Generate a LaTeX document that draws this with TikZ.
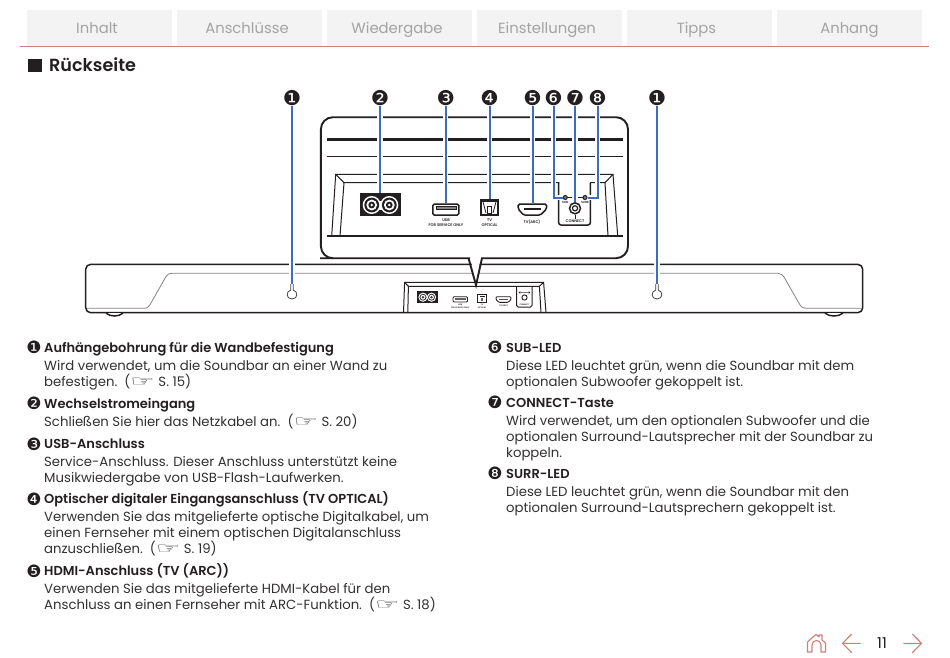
\documentclass[tikz,border=0pt]{standalone}
\usepackage{fontspec}
\setmainfont{Poppins}
\newfontfamily\medfont{Poppins SemiBold}
\newfontfamily\symfont{DejaVu Sans}
\definecolor{tabfill}{HTML}{F3F3F3}
\definecolor{tabtext}{HTML}{A3A3A3}
\definecolor{rule}{HTML}{CF8078}
\definecolor{ink}{HTML}{231F20}
\definecolor{lead}{HTML}{3F6DB8}
\definecolor{bodyink}{HTML}{333031}
\tikzset{
  tabbox/.style={fill=tabfill,minimum width=145pt,minimum height=36pt,inner sep=0pt},
  tablabel/.style={inner sep=0pt,text=tabtext,text height=10pt,text depth=3pt,font=\fontsize{14.8}{15}\selectfont},
  callout/.style={font=\symfont\fontsize{20.5}{20.5}\selectfont,inner sep=0pt,text=ink},
  keynum/.style={font=\symfont\fontsize{17}{17}\selectfont,inner sep=0pt,text=ink},
  leader/.style={draw=lead,line width=2pt,preaction={draw=white,line width=5.4pt}},
  head/.style={anchor=base west,inner sep=0pt,text=ink,font=\medfont\fontsize{13}{13}\selectfont},
  body/.style={anchor=base west,inner sep=0pt,text=bodyink,font=\fontsize{13.25}{13.25}\selectfont},
  tiny/.style={inner sep=0pt,align=center,text=ink,font=\medfont\fontsize{3.8}{4.6}\selectfont},
  mini/.style={inner sep=0pt,align=center,text=ink,font=\medfont\fontsize{2}{2.6}\selectfont},
  port/.style={draw=ink,inner sep=0pt,line width=1.5pt},
  navline/.style={draw=rule,line width=1.1pt},
  barline/.style={draw=ink,line width=1.5pt},
  softline/.style={draw=ink!55,line width=0.8pt},
  panelline/.style={draw=ink,line width=1pt},
  holeline/.style={draw=ink!85,line width=0.8pt,fill=white}
}
\newcommand{\hand}{{\symfont\bfseries\fontsize{14}{14}\selectfont\scalebox{1.95}[1.05]{☞}}}
\begin{document}
\begin{tikzpicture}[x=1pt,y=-1pt]
\useasboundingbox (0,0) rectangle (950,657);
\fill[white] (0,0) rectangle (950,657);
% tabs
\foreach \nm/\cx/\lx/\tx in {t1/99.5/97/Inhalt,t2/249.7/247/Anschlüsse,t3/399.5/397/Wiedergabe,t4/549.5/547/Einstellungen,t5/699.5/696.5/Tipps,t6/849.5/849.5/Anhang}{
  \node[tabbox] (\nm) at (\cx,28) {};
  \node[tablabel] (\nm l) at (\lx,29.5) {\tx};
}
\draw[rule,line width=1pt] (20,46.3) -- (929,46.3);
\fill[ink] (28,58.5) rectangle (41.7,71.7);
\node[anchor=base west,inner sep=0pt,text=ink,font=\medfont\fontsize{17.6}{18}\selectfont] (title) at (49,71.5) {Rückseite};

% sound bar
\draw[barline,fill=white,rounded corners=5pt] (85.7,264.3) -- (862.7,264.3) -- (862.7,312.7) -- (85.7,312.7) -- cycle;
\draw[barline,fill=white] (106,313) .. controls (110,317) and (119,317) .. (123,313);
\draw[barline,fill=white] (825,313) .. controls (829,317) and (839,317) .. (843,313);
\draw[softline] (87,308.3) -- (144,308.3) .. controls (148,308.3) and (149,306) .. (151,303) -- (166,276.5) .. controls (168,274) and (169,273.3) .. (172,273.3) -- (778,273.3) .. controls (781,273.3) and (782,275) .. (784,277) -- (800,305) .. controls (802,308) and (804,308.3) .. (807,308.3) -- (861,308.3);
% keyholes
\draw[holeline] (293.2,283) -- (293.2,290) .. controls (298.5,291.5) and (298,299) .. (292,299) .. controls (286,299) and (285.5,291.5) .. (290.8,290) -- (290.8,283);
\draw[holeline] (658.2,283) -- (658.2,290) .. controls (663.5,291.5) and (663,299) .. (657,299) .. controls (651,299) and (650.5,291.5) .. (655.8,290) -- (655.8,283);
\coordinate (hole1) at (292,284);
\coordinate (hole2) at (657,284);
% recess in the bar
\draw[panelline] (403.5,312.7) -- (404.6,282.3) -- (543.6,282.3) -- (546,312.7);
\draw[panelline] (407.8,312.7) -- (408.4,286.3) -- (539.4,286.3) -- (541,312.7);
\draw[panelline] (404.6,282.3) -- (408.4,286.3) (543.6,282.3) -- (539.4,286.3);
% mini ports
\fill[ink] (417,291) rectangle (437.5,303);
\fill[white] (423,297.2) circle (4.6) (431.5,297.2) circle (4.6);
\fill[ink!85] (423,297.2) circle (3.5) (431.5,297.2) circle (3.5);
\fill[white] (423,297.2) circle (2.4) (431.5,297.2) circle (2.4);
\fill[ink!85] (423,297.2) circle (1.3) (431.5,297.2) circle (1.3);
\draw[draw=ink,line width=0.9pt,rounded corners=1pt] (453,296.7) rectangle (467.5,302);
\fill[ink!70] (455,298) rectangle (465.5,299.5);
\node[mini] (musb) at (460.2,306) {USB\\FOR SERVICE ONLY};
\draw[draw=ink,line width=1pt] (477.5,294.5) rectangle (486.7,302.7);
\fill[ink] (480,295.6) rectangle (484.5,296.5);
\fill[ink!70] (481.3,298.2) rectangle (483,300.6);
\node[mini] (mopt) at (482,306.3) {TV\\OPTICAL};
\draw[draw=ink,line width=0.9pt,rounded corners=1pt] (496,296.7) -- (511,296.7) -- (511,299.6) -- (508,302.4) -- (499,302.4) -- (496,299.6) -- cycle;
\fill[ink!80] (499,298.6) rectangle (508,299.9);
\node[mini] (mhdmi) at (503.5,305.5) {TV(ARC)};
\draw[draw=ink,line width=1pt,rounded corners=1.5pt] (516.7,286.3) -- (516.7,307) -- (532,307) -- (532,286.3);
\draw[draw=ink,line width=0.9pt] (524.5,297.5) circle (2.6);
\fill[ink] (520,292.5) circle (1.2) (529,292.5) circle (1.2);
\draw[draw=ink!60,line width=0.4pt] (520,292.5) -- (529,292.5);
\node[mini] (mconn) at (524.5,304.4) {CONNECT};

% detail panel
\draw[draw=ink,line width=1.9pt,fill=white,rounded corners=12pt] (470,258.2) -- (332,258.2) -- (320.9,258.2) -- (320.9,117.2) -- (628,117.2) -- (628,258.2) -- (481,258.2);
\fill[white] (470,256) -- (481,256) -- (476,284) -- cycle;
\draw[draw=ink,line width=1.9pt,line join=miter] (468.5,258.2) -- (476,285) -- (482,258.2);
\fill[white] (470.5,255) -- (480.5,255) -- (476,279) -- cycle;
\draw[draw=ink,line width=2.6pt] (326.7,139.3) -- (622.7,139.3);
\draw[draw=ink,line width=0.9pt] (326.7,156.7) -- (622.7,156.7);
\draw[panelline] (331.7,236) -- (335.7,174.3) -- (613,174.3) -- (617.7,236);
\draw[panelline] (340,236) -- (344,182.7) -- (559.3,182.7);
\draw[panelline] (590,182.7) -- (605,182.7) -- (608,236);
\draw[panelline] (335.7,174.3) -- (344,182.7) (613,174.3) -- (605,182.7);
\draw[draw=ink,line width=2.6pt] (326.7,236) -- (622.7,236);
% connect box
\draw[draw=ink,line width=1.5pt,rounded corners=2.5pt] (558.6,182.7) -- (558.6,225) -- (590.4,225) -- (590.4,182.7);
% ports
\node[fill=ink,inner sep=0pt,minimum width=41pt,minimum height=23pt] (ac) at (380.5,204.5) {};
\fill[white] (371.7,205) circle (9) (389.3,205) circle (9);
\fill[white] (373,200.5) rectangle (388,209.5);
\fill[ink] (371.7,205) circle (7.4) (389.3,205) circle (7.4);
\fill[white] (371.7,205) circle (5.4) (389.3,205) circle (5.4);
\fill[ink] (371.7,205) circle (3.4) (389.3,205) circle (3.4);
\fill[white] (371.7,205) circle (1.4) (389.3,205) circle (1.4);
\node[port,rounded corners=1.5pt,minimum width=26pt,minimum height=11pt] (usb) at (445.8,209.5) {};
\draw[draw=ink,line width=1pt,fill=ink!55] (436,206) rectangle (456,209.6);
\node[tiny] (usbl) at (446,222.5) {USB\\FOR SERVICE ONLY};
\node[port,minimum width=17.4pt,minimum height=15.5pt] (opt) at (489.5,207.3) {};
\fill[ink] (482,200) rectangle (497,201.8);
\draw[draw=ink,line width=0.8pt] (483,201.8) -- (486,213) (496,201.8) -- (493,213);
\draw[draw=ink,line width=0.8pt] (487.7,206) rectangle (491.3,213.5);
\node[tiny] (optl) at (489.5,222.8) {TV\\OPTICAL};
\node[port,draw=none,minimum width=29pt,minimum height=11pt] (hdmi) at (532.2,209.5) {};
\draw[draw=ink,line width=1.5pt,rounded corners=1.5pt] (518.2,204) -- (546.5,204) -- (546.5,209) -- (540.5,215) -- (523.5,215) -- (518.2,209) -- cycle;
\fill[ink] (523.5,208) rectangle (541,210.4);
\node[tiny] (hdmil) at (532,222) {TV(ARC)};
\draw[draw=ink,line width=0.8pt] (565.3,197.5) -- (585,197.5);
\node[circle,draw=ink,fill=ink!60,line width=1pt,inner sep=0pt,minimum size=4pt] (led6) at (565.3,197.5) {};
\node[circle,draw=ink,fill=ink!60,line width=1pt,inner sep=0pt,minimum size=4pt] (led8) at (585,197.5) {};
\node[circle,draw=ink,fill=white,line width=1.5pt,inner sep=0pt,minimum size=11pt] (btn) at (575,208.3) {};
\draw[draw=ink,line width=1.2pt] (btn) circle (2.6);
\draw[draw=ink,line width=0.7pt] (btn.south) -- +(0,4.5);
\node[tiny,font=\medfont\fontsize{3}{3}\selectfont] (subl) at (565,202.6) {SUB};
\node[tiny,font=\medfont\fontsize{3}{3}\selectfont] (surl) at (585,202.6) {SURR};
\node[tiny] (conl) at (575,221.6) {CONNECT};

% callouts
\foreach \nm/\cx/\tx in {c1/292/❶,c2/380/❷,c3/445.7/❸,c4/489.5/❹,c5/532.5/❺,c6/553.5/❻,c7/575/❼,c8/597.5/❽,c9/657/❶}
  \node[callout] (\nm) at (\cx,98) {\tx};
\path[leader] (c1.south) -- (c1.south |- hole1);
\path[leader] (c9.south) -- (c9.south |- hole2);
\path[leader] (c2.south) -- (c2.south |- ac.north);
\path[leader] (c3.south) -- (c3.south |- usb.north);
\path[leader] (c4.south) -- (c4.south |- opt.north);
\path[leader] (c5.south) -- (c5.south |- hdmi.north);
\path[leader] (c6.south) |- (led6.west);
\path[leader] (c7.south) -- (c7.south |- btn.north);
\path[leader] (c8.south) |- (led8.east);

% left column
\node[keynum] (k1) at (34,347.5) {❶};
\node[head] (h1) at (44,352) {Aufhängebohrung für die Wandbefestigung};
\node[body] (b1a) at (44,370.5) {Wird verwendet, um die Soundbar an einer Wand zu};
\node[body] (b1b) at (44,386) {befestigen.\ \ (\hand\ S. 15)};
\node[keynum] (k2) at (34,403.5) {❷};
\node[head] (h2) at (44,408) {Wechselstromeingang};
\node[body] (b2a) at (44,426.5) {Schließen Sie hier das Netzkabel an.\ \ (\hand\ S. 20)};
\node[keynum] (k3) at (34,444) {❸};
\node[head] (h3) at (44,448.5) {USB-Anschluss};
\node[body] (b3a) at (44,466.5) {Service-Anschluss. Dieser Anschluss unterstützt keine};
\node[body] (b3b) at (44,482) {Musikwiedergabe von USB-Flash-Laufwerken.};
\node[keynum] (k4) at (34,499) {❹};
\node[head] (h4) at (44,503.5) {Optischer digitaler Eingangsanschluss (TV OPTICAL)};
\node[body] (b4a) at (44,521.5) {Verwenden Sie das mitgelieferte optische Digitalkabel, um};
\node[body] (b4b) at (44,537.5) {einen Fernseher mit einem optischen Digitalanschluss};
\node[body] (b4c) at (44,553) {anzuschließen.\ \ (\hand\ S. 19)};
\node[keynum] (k5) at (34,571) {❺};
\node[head] (h5) at (44,575.5) {HDMI-Anschluss (TV (ARC))};
\node[body] (b5a) at (44,593.5) {Verwenden Sie das mitgelieferte HDMI-Kabel für den};
\node[body] (b5b) at (44,609.5) {Anschluss an einen Fernseher mit ARC-Funktion.\ \ (\hand\ S. 18)};
% right column
\node[keynum] (k6) at (495,347.5) {❻};
\node[head] (h6) at (506,352) {SUB-LED};
\node[body] (b6a) at (506,370) {Diese LED leuchtet grün, wenn die Soundbar mit dem};
\node[body] (b6b) at (506,386) {optionalen Subwoofer gekoppelt ist.};
\node[keynum] (k7) at (495,402.5) {❼};
\node[head] (h7) at (506,407) {CONNECT-Taste};
\node[body] (b7a) at (506,425) {Wird verwendet, um den optionalen Subwoofer und die};
\node[body] (b7b) at (506,441) {optionalen Surround-Lautsprecher mit der Soundbar zu};
\node[body] (b7c) at (506,457) {koppeln.};
\node[keynum] (k8) at (495,473.5) {❽};
\node[head] (h8) at (506,478) {SURR-LED};
\node[body] (b8a) at (506,496) {Diese LED leuchtet grün, wenn die Soundbar mit den};
\node[body] (b8b) at (506,512) {optionalen Surround-Lautsprechern gekoppelt ist.};

% page navigation
\node[inner sep=0pt,text=ink,font=\fontsize{15}{15}\selectfont] (page) at (882,643.5) {11};
\draw[navline,line join=round] (807.5,652) -- (807.5,642) -- (813,637) -- (816,634.5) -- (819,637) -- (819,635) -- (822,635) -- (822,640) -- (825.5,643) -- (825.5,652) -- (821,652) -- (821,645) .. controls (821,639) and (812,639) .. (812,645) -- (812,652) -- cycle;
\draw[navline] (860.7,643.3) -- (842.5,643.3) (851.7,634) -- (842.5,643.3) -- (851.7,652.7);
\draw[navline] (903.3,643.3) -- (921.5,643.3) (912.3,634) -- (921.5,643.3) -- (912.3,652.7);
\end{tikzpicture}
\end{document}
